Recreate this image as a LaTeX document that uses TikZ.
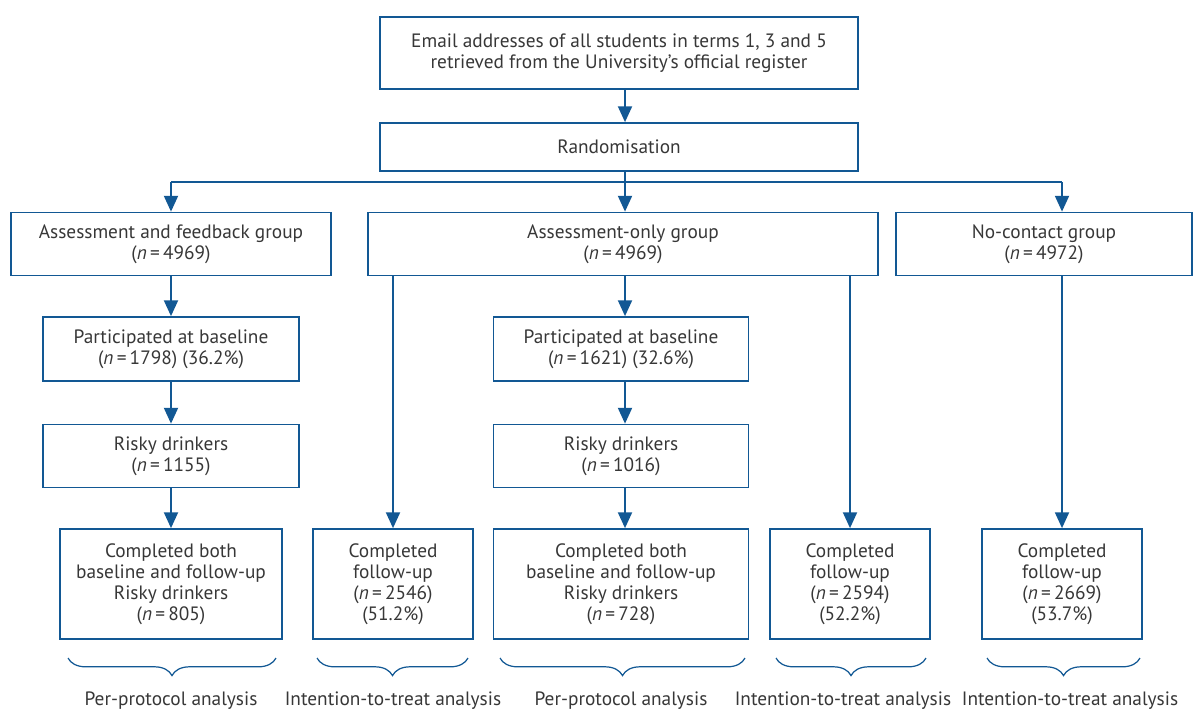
\documentclass[tikz,border=0pt]{standalone}
\usepackage{fontspec}
\setmainfont{PT Sans}
\usepackage{tikz}
\usetikzlibrary{arrows.meta,decorations.pathreplacing}
\definecolor{flowblue}{RGB}{18,88,148}
\definecolor{flowtext}{RGB}{55,55,55}

\begin{document}
\begin{tikzpicture}[x=0.02cm,y=-0.02cm,
  box/.style 2 args={draw=flowblue,line width=1pt,text=flowtext,align=center,inner sep=0pt,
    minimum width=#1*0.02cm,minimum height=#2*0.02cm,font=\fontsize{11}{12}\selectfont},
  flow/.style={draw=flowblue,line width=1pt,-{Triangle[width=8pt,length=9pt]}},
  brc/.style={draw=flowblue,line width=0.7pt,decorate,decoration={brace,mirror,amplitude=10pt}},
  lbl/.style={text=flowtext,font=\fontsize{11}{13}\selectfont,inner sep=0pt}]
  \useasboundingbox (0,0) rectangle (1202,711);

  % top of the chart
  \node[box={478}{72}] (email) at (619,53) {Email addresses of all students in terms 1, 3 and 5\\retrieved from the University’s official register};
  \node[box={478}{48}] (rand) at (619,147) {Randomisation};

  % the three groups
  \node[box={320}{63}] (afg) at (171,244) {Assessment and feedback group\\(\textit{n}\,=\,4969)};
  \node[box={510}{63}] (aog) at (623,244) {Assessment-only group\\(\textit{n}\,=\,4969)};
  \node[box={296}{63}] (ncg) at (1044,244) {No-contact group\\(\textit{n}\,=\,4972)};

  \node[box={256}{64}] (pb1) at (171,349) {Participated at baseline\\(\textit{n}\,=\,1798) (36.2\%)};
  \node[box={256}{63}] (rd1) at (171,456) {Risky drinkers\\(\textit{n}\,=\,1155)};
  \node[box={222}{110}] (cb1) at (171,584) {Completed both\\baseline and follow-up\\Risky drinkers\\(\textit{n}\,=\,805)};
  \node[box={160}{110}] (cf1) at (393,584) {Completed\\follow-up\\(\textit{n}\,=\,2546)\\(51.2\%)};

  \node[box={255}{64}] (pb2) at (621,349) {Participated at baseline\\(\textit{n}\,=\,1621) (32.6\%)};
  \node[box={255}{63}] (rd2) at (621,456) {Risky drinkers\\(\textit{n}\,=\,1016)};
  \node[box={255}{110}] (cb2) at (621,584) {Completed both\\baseline and follow-up\\Risky drinkers\\(\textit{n}\,=\,728)};
  \node[box={160}{110}] (cf2) at (850,584) {Completed\\follow-up\\(\textit{n}\,=\,2594)\\(52.2\%)};
  \node[box={160}{110}] (cf3) at (1062,584) {Completed\\follow-up\\(\textit{n}\,=\,2669)\\(53.7\%)};

  % arrows
  \coordinate (split) at (625,182);
  \draw[flow] (split |- email.south) -- (split |- rand.north);
  \draw[draw=flowblue,line width=1pt] (split |- rand.south) -- (split);
  \draw[draw=flowblue,line width=1pt] (afg.north |- split) -- (cf3.north |- split);
  \draw[flow] (afg.north |- split) -- (afg.north);
  \draw[flow] (split) -- (split |- aog.north);
  \draw[flow] (cf3.north |- split) -- (cf3.north |- ncg.north);

  \draw[flow] (afg.south) -- (pb1.north);
  \draw[flow] (pb1) -- (rd1);
  \draw[flow] (rd1) -- (cb1);
  \draw[flow] (cf1.north |- aog.south) -- (cf1.north);
  \draw[flow] (split |- aog.south) -- (split |- pb2.north);
  \draw[flow] (split |- pb2.south) -- (split |- rd2.north);
  \draw[flow] (split |- rd2.south) -- (split |- cb2.north);
  \draw[flow] (cf2.north |- aog.south) -- (cf2.north);
  \draw[flow] (cf3.north |- ncg.south) -- (cf3.north);

  % braces and analysis labels
  \draw[brc] (68,658) -- (276,658);
  \draw[brc] (317,658) -- (468,658);
  \draw[brc] (500,658) -- (745,658);
  \draw[brc] (776,658) -- (926,658);
  \draw[brc] (987,658) -- (1140,658);
  \node[lbl] (pp1) at (171,701) {Per-protocol analysis};
  \node[lbl] (itt1) at (393,701) {Intention-to-treat analysis};
  \node[lbl] (pp2) at (621,701) {Per-protocol analysis};
  \node[lbl] (itt2) at (843,701) {Intention-to-treat analysis};
  \node[lbl] (itt3) at (1070,701) {Intention-to-treat analysis};
\end{tikzpicture}
\end{document}
